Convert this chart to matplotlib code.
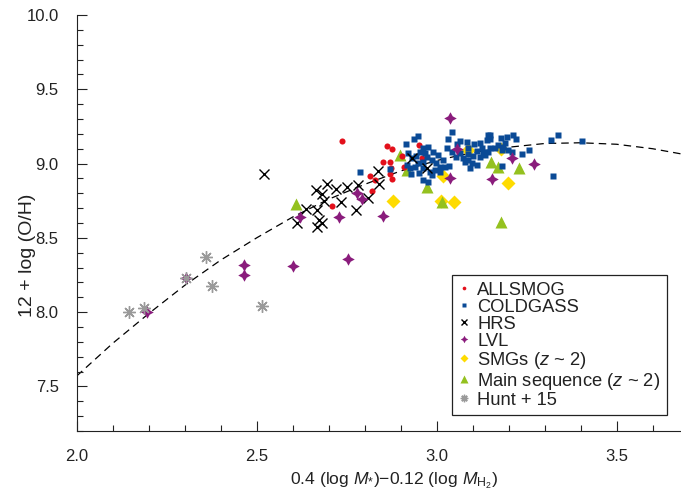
import matplotlib
matplotlib.use("Agg")
import matplotlib.pyplot as plt
from matplotlib.ticker import MultipleLocator

plt.rcParams['font.family'] = ['Liberation Sans', 'DejaVu Sans']
plt.rcParams['mathtext.fontset'] = 'custom'
plt.rcParams['mathtext.rm'] = 'Liberation Sans'
plt.rcParams['mathtext.it'] = 'Liberation Sans:italic'

# fitted relation
fit_x = [2.0, 2.1, 2.2, 2.3, 2.4, 2.5, 2.6, 2.7, 2.8, 2.9, 3.0, 3.1, 3.2, 3.3, 3.4, 3.5, 3.6, 3.7]
fit_y = [7.57, 7.79, 7.99, 8.18, 8.35, 8.50, 8.64, 8.76, 8.86, 8.95, 9.02, 9.075, 9.11, 9.135, 9.14, 9.13, 9.10, 9.056]

allsmog_x = [2.737, 2.709, 2.820, 2.815, 2.829, 2.851, 2.870, 2.873, 2.870, 2.876, 2.862, 2.876, 2.909, 2.904, 2.951, 2.959]
allsmog_y = [9.150, 8.712, 8.813, 8.914, 8.887, 9.009, 9.009, 8.968, 8.928, 8.894, 9.117, 9.096, 8.975, 9.049, 9.123, 9.036]

coldgass_x = [2.787, 2.870, 2.929, 2.948, 2.915, 2.937, 2.948, 3.043, 3.031, 3.065, 3.056, 3.084, 3.104, 3.120,
              3.140, 3.143, 3.126, 3.112, 3.087, 2.962, 2.954, 2.990, 3.004, 3.018, 3.029, 3.043, 2.920, 2.931,
              2.943, 2.973, 2.962, 2.987, 2.998, 3.009, 3.023, 3.034, 3.073, 3.087, 3.098, 3.112, 3.093, 3.079,
              3.065, 3.054, 3.087, 3.101, 3.120, 3.134, 3.143, 2.918, 2.926, 2.940, 2.951, 2.962, 2.981, 2.995,
              3.009, 2.987, 2.962, 2.976, 2.976, 2.968,
              3.148, 3.148, 3.179, 3.195, 3.212, 3.220, 3.190, 3.184, 3.148, 3.162, 3.129, 3.182, 3.198, 3.209,
              3.237, 3.256, 3.182, 3.317, 3.337, 3.403, 3.323, 3.170]
coldgass_y = [8.941, 8.962, 8.928, 9.002, 9.130, 9.164, 9.184, 9.211, 9.164, 9.150, 9.130, 9.144, 9.130, 9.137,
              9.157, 9.191, 9.103, 9.083, 9.103, 9.103, 9.076, 9.076, 9.056, 9.022, 9.103, 9.076, 9.069, 9.036,
              9.049, 9.042, 9.009, 9.022, 9.002, 8.975, 8.975, 8.982, 9.036, 9.022, 9.002, 8.989, 8.968, 9.009,
              9.069, 9.042, 9.063, 9.049, 9.042, 9.056, 9.076, 8.989, 8.968, 8.975, 8.935, 8.968, 8.941, 8.955,
              8.941, 8.921, 8.887, 8.874, 9.110, 9.069,
              9.191, 9.164, 9.171, 9.177, 9.191, 9.164, 9.137, 9.110, 9.103, 9.103, 9.076, 9.090, 9.090, 9.076,
              9.063, 9.090, 8.982, 9.157, 9.191, 9.150, 8.914, 9.123]

hrs_x = [2.521, 2.665, 2.696, 2.681, 2.720, 2.751, 2.781, 2.687, 2.734, 2.668, 2.637, 2.612, 2.673, 2.681,
         2.668, 2.776, 2.809, 2.837, 2.840, 2.931, 2.973]
hrs_y = [8.928, 8.820, 8.860, 8.793, 8.827, 8.840, 8.854, 8.746, 8.739, 8.685, 8.692, 8.597, 8.618, 8.597,
         8.570, 8.685, 8.766, 8.948, 8.860, 9.036, 8.968]

lvl_x = [2.195, 2.304, 2.465, 2.465, 2.600, 2.620, 2.729, 2.754, 2.779, 2.793, 2.851, 3.037, 3.037, 3.057,
         3.154, 3.210, 3.270]
lvl_y = [8.00, 8.23, 8.32, 8.25, 8.31, 8.64, 8.64, 8.36, 8.80, 8.76, 8.65, 9.31, 8.90, 9.10,
         8.895, 9.04, 8.995]

smg_x = [2.879, 3.018, 3.013, 3.049, 3.198, 3.180, 3.087]
smg_y = [8.745, 8.915, 8.75, 8.74, 8.867, 9.095, 9.09]

ms_x = [2.610, 2.898, 2.918, 2.973, 3.015, 3.151, 3.170, 3.230, 3.180]
ms_y = [8.73, 9.055, 8.955, 8.84, 8.74, 9.01, 8.98, 8.97, 8.605]

hunt_x = [2.145, 2.187, 2.304, 2.360, 2.376, 2.515]
hunt_y = [8.00, 8.025, 8.227, 8.368, 8.173, 8.038]

text_c = '#222222'

fig = plt.figure(figsize=(6.81, 4.90), dpi=100)
ax = fig.add_axes([0.1126, 0.1204, 0.8874, 0.849])

ax.plot(fit_x, fit_y, color='black', lw=0.9, dashes=(6, 4), zorder=1)

h_smg, = ax.plot(smg_x, smg_y, 'D', color='#fedb00', ms=7, mec='none', label='SMGs ($z$ ~ 2)', zorder=2)
h_ms, = ax.plot(ms_x, ms_y, '^', color='#94c11f', ms=9, mec='none', label='Main sequence ($z$ ~ 2)', zorder=2)
h_all, = ax.plot(allsmog_x, allsmog_y, 'o', color='#e3101b', ms=4.4, mec='none', label='ALLSMOG', zorder=3)
h_cg, = ax.plot(coldgass_x, coldgass_y, 's', color='#0a4a96', ms=5, mec='none', label='COLDGASS', zorder=4)
h_hrs, = ax.plot(hrs_x, hrs_y, 'x', color='black', ms=6.5, mew=1.0, label='HRS', zorder=5)
h_lvl, = ax.plot(lvl_x, lvl_y, marker=(4, 1, 0), ls='none', color='#8a1c7c', ms=9, mec='none', label='LVL', zorder=6)
h_hunt, = ax.plot(hunt_x, hunt_y, marker=(8, 2, 0), ls='none', color='#9a9a9a', ms=9, mew=1.0,
                  label='Hunt + 15', zorder=7)

ax.set_xlim(2.0, 3.679)
ax.set_ylim(7.2, 10.0)
ax.xaxis.set_major_locator(MultipleLocator(0.5))
ax.xaxis.set_minor_locator(MultipleLocator(0.1))
ax.yaxis.set_major_locator(MultipleLocator(0.5))
ax.yaxis.set_minor_locator(MultipleLocator(0.1))
ax.tick_params(which='both', direction='in', color='#222222', width=0.8, labelsize=12, labelcolor=text_c,
               top=False, right=False)
ax.tick_params(which='major', length=7, pad=13)
ax.tick_params(which='minor', length=4.3)
for s in ['top', 'right']:
    ax.spines[s].set_visible(False)
for s in ['left', 'bottom']:
    ax.spines[s].set_color('#222222')
    ax.spines[s].set_linewidth(0.8)

ax.set_xlabel(r'0.4 (log $M_{*}$)$-$0.12 (log $M_{\mathrm{H_2}}$)', fontsize=12.6, color=text_c)
ax.xaxis.set_label_coords(0.525, -0.094)
ax.set_ylabel('12 + log (O/H)', fontsize=14, color=text_c)
ax.yaxis.set_label_coords(-0.068, 0.423)

leg = ax.legend(handles=[h_all, h_cg, h_hrs, h_lvl, h_smg, h_ms, h_hunt], loc='lower right',
                bbox_to_anchor=(0.977, 0.038), fontsize=13.2, markerscale=0.6, handlelength=0.6,
                handletextpad=0.45, labelspacing=0.0, borderpad=0.35, borderaxespad=0,
                fancybox=False, framealpha=1, edgecolor='#222222', labelcolor=text_c)
leg.get_frame().set_linewidth(0.9)

fig.savefig('out.png', dpi=100)
